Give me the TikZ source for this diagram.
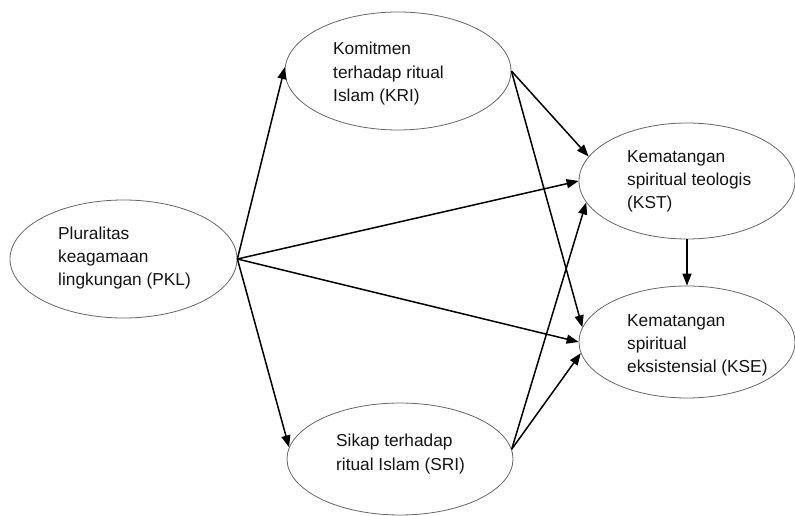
\documentclass[tikz,border=0pt]{standalone}
\usepackage{fontspec}
\setmainfont{Liberation Sans}
\usetikzlibrary{shapes.geometric,arrows.meta}
\tikzset{
  oval/.style={draw=black!60, line width=0.8pt, ellipse, inner sep=0pt},
  label text/.style={anchor=north west, inner sep=0pt, align=left, text=black!92,
    font=\fontsize{17.3}{23.3}\selectfont},
  link/.style={line width=1.5pt, -{Triangle[length=12pt,width=9pt]}}
}
\begin{document}
\begin{tikzpicture}[x=1pt,y=1pt]
\useasboundingbox (0,0) rectangle (795,516);
\node[oval, minimum width=227pt, minimum height=118pt] (pkl) at (123.5,257) {};
\node[oval, minimum width=226pt, minimum height=118pt] (kri) at (398,445) {};
\node[oval, minimum width=226pt, minimum height=112pt] (sri) at (400,57) {};
\node[oval, minimum width=216pt, minimum height=116pt] (kst) at (687,335) {};
\node[oval, minimum width=216pt, minimum height=112pt] (kse) at (687,174) {};

\node[label text] (tpkl) at (58,289.5) {Pluralitas\\keagamaan\\lingkungan (PKL)};
\node[label text] (tkri) at (333,474) {Komitmen\\terhadap ritual\\Islam (KRI)};
\node[label text] (tsri) at (336,82) {Sikap terhadap\\ritual Islam (SRI)};
\node[label text] (tkst) at (627,366) {Kematangan\\spiritual teologis\\(KST)};
\node[label text] (tkse) at (627,202) {Kematangan\\spiritual\\eksistensial (KSE)};

\draw[link] (pkl.east) -- (kri.178);
\draw[link] (pkl.east) -- (sri.174);
\draw[link] (pkl.east) -- (kst.west);
\draw[link] (pkl.east) -- (kse.west);
\draw[link] (kri.east) -- (kst.166);
\draw[link] (kri.east) -- (kse.172);
\draw[link] (sri.5) -- (kst.192);
\draw[link] (sri.5) -- (kse.186.5);
\draw[link] (kst.south) -- (kse.north);
\end{tikzpicture}
\end{document}
